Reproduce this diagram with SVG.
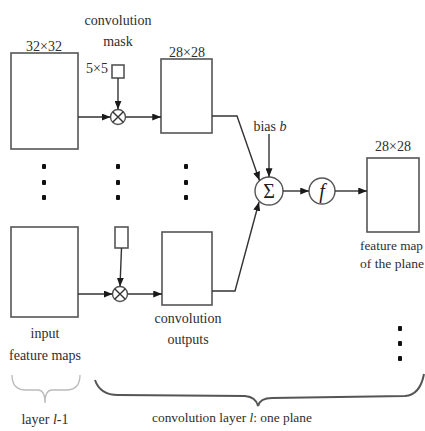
<svg xmlns="http://www.w3.org/2000/svg" width="425" height="431" viewBox="0 0 425 431">
<defs>
<marker id="ah" viewBox="0 0 10 8" refX="10" refY="4" markerWidth="9" markerHeight="7" markerUnits="userSpaceOnUse" orient="auto">
<path d="M0,0 L10,4 L0,8 z" fill="#1a1a1a"/>
</marker>
<style>
text{font-size:14px;fill:#2e2e2e;}
.c{text-anchor:middle;}
.box{fill:#fff;stroke:#555;stroke-width:1.6;}
.op{fill:#fff;stroke:#555;stroke-width:1.4;}
.ln{fill:none;stroke:#333;stroke-width:1.4;}
.dot{fill:#111;}
.it{font-style:italic;}
</style>
</defs>
<rect width="425" height="431" fill="#fff"/>
<g font-family="'Liberation Serif', 'DejaVu Serif', Times, serif">

<g id="input-top">
<rect class="box" x="11" y="53" width="67" height="96"/>
<text class="c" x="44" y="51">32×32</text>
</g>
<g id="input-bottom">
<rect class="box" x="11" y="227" width="67" height="90"/>
<text class="c" x="45" y="338">input</text>
<text class="c" x="45" y="360">feature maps</text>
</g>
<g id="mask-top">
<text class="c" x="118" y="25">convolution</text>
<text class="c" x="118" y="46">mask</text>
<text x="108" y="73" text-anchor="end">5×5</text>
<rect class="box" x="112" y="65" width="12" height="13"/>
</g>
<g id="mask-bottom">
<rect class="box" x="115" y="227" width="13" height="21"/>
</g>
<g id="mult-top">
<circle class="op" cx="118" cy="117" r="7.5"/>
<path class="ln" d="M112.7,111.7 L123.3,122.3 M123.3,111.7 L112.7,122.3" stroke-width="1"/>
</g>
<g id="mult-bottom">
<circle class="op" cx="120" cy="294" r="7.5"/>
<path class="ln" d="M114.7,288.7 L125.3,299.3 M125.3,288.7 L114.7,299.3" stroke-width="1"/>
</g>
<g id="conv-top">
<rect class="box" x="161" y="59" width="51" height="74"/>
<text class="c" x="187" y="57">28×28</text>
</g>
<g id="conv-bottom">
<rect class="box" x="162" y="232" width="50" height="73"/>
<text class="c" x="188" y="323">convolution</text>
<text class="c" x="188" y="344">outputs</text>
</g>
<g id="sum">
<circle class="op" cx="269" cy="191" r="14"/>
<text class="c" x="269" y="198" style="font-size:20px;fill:#222">Σ</text>
<text class="c" x="270" y="131">bias <tspan class="it">b</tspan></text>
</g>
<g id="activation">
<circle class="op" cx="322" cy="191" r="13"/>
<text class="c it" x="322" y="198" style="font-size:20px;fill:#222">f</text>
</g>
<g id="output">
<rect class="box" x="367" y="158" width="52" height="74"/>
<text class="c" x="393" y="151">28×28</text>
<text x="360" y="250" style="font-size:13px" textLength="63" lengthAdjust="spacingAndGlyphs">feature map</text>
<text x="360" y="268" style="font-size:13px" textLength="64" lengthAdjust="spacingAndGlyphs">of the plane</text>
</g>

<g id="dots">
<rect class="dot" x="42" y="164" width="4" height="5" rx="1"/>
<rect class="dot" x="42" y="180" width="4" height="5" rx="1"/>
<rect class="dot" x="42" y="195" width="4" height="5" rx="1"/>
<rect class="dot" x="116" y="164" width="4" height="5" rx="1"/>
<rect class="dot" x="116" y="180" width="4" height="5" rx="1"/>
<rect class="dot" x="116" y="195" width="4" height="5" rx="1"/>
<rect class="dot" x="184" y="164" width="4" height="5" rx="1"/>
<rect class="dot" x="184" y="180" width="4" height="5" rx="1"/>
<rect class="dot" x="184" y="195" width="4" height="5" rx="1"/>
<rect class="dot" x="398" y="326" width="4" height="5" rx="1"/>
<rect class="dot" x="398" y="341" width="4" height="5" rx="1"/>
<rect class="dot" x="398" y="356" width="4" height="5" rx="1"/>
</g>

<g id="connectors">
<path class="ln" d="M78,117 L110.5,117" marker-end="url(#ah)"/>
<path class="ln" d="M118,78 L118,109.5" marker-end="url(#ah)"/>
<path class="ln" d="M125.5,117 L161,117" marker-end="url(#ah)"/>
<path class="ln" d="M78,294 L112.5,294" marker-end="url(#ah)"/>
<path class="ln" d="M121.5,248 L120,286.5" marker-end="url(#ah)"/>
<path class="ln" d="M127.5,294 L162,294" marker-end="url(#ah)"/>
<path class="ln" d="M212,116 L237,116 L259.5,180.5" marker-end="url(#ah)"/>
<path class="ln" d="M212,291 L235,291 L259,202" marker-end="url(#ah)"/>
<path class="ln" d="M269,134 L269,177" marker-end="url(#ah)"/>
<path class="ln" d="M283,191 L309,191" marker-end="url(#ah)"/>
<path class="ln" d="M335,191 L367,191" marker-end="url(#ah)"/>
</g>

<g id="brace-prev">
<path d="M12,375 Q12,390 26,390 L38,390 Q45,390 45,403 Q45,390 52,390 L66,390 Q80,390 80,375" fill="none" stroke="#bbb" stroke-width="1.3"/>
<text class="c" x="45" y="424">layer <tspan class="it">l</tspan>-1</text>
</g>
<g id="brace-layer">
<path d="M95,380 Q100,395 118,395 L245,396 Q256,397 258,406 Q260,398 272,398 L405,396 Q420,395 424,374" fill="none" stroke="#555" stroke-width="2"/>
<text class="c" x="232" y="422" style="font-size:13.4px">convolution layer <tspan class="it">l</tspan>: one plane</text>
</g>
</g>
</svg>
